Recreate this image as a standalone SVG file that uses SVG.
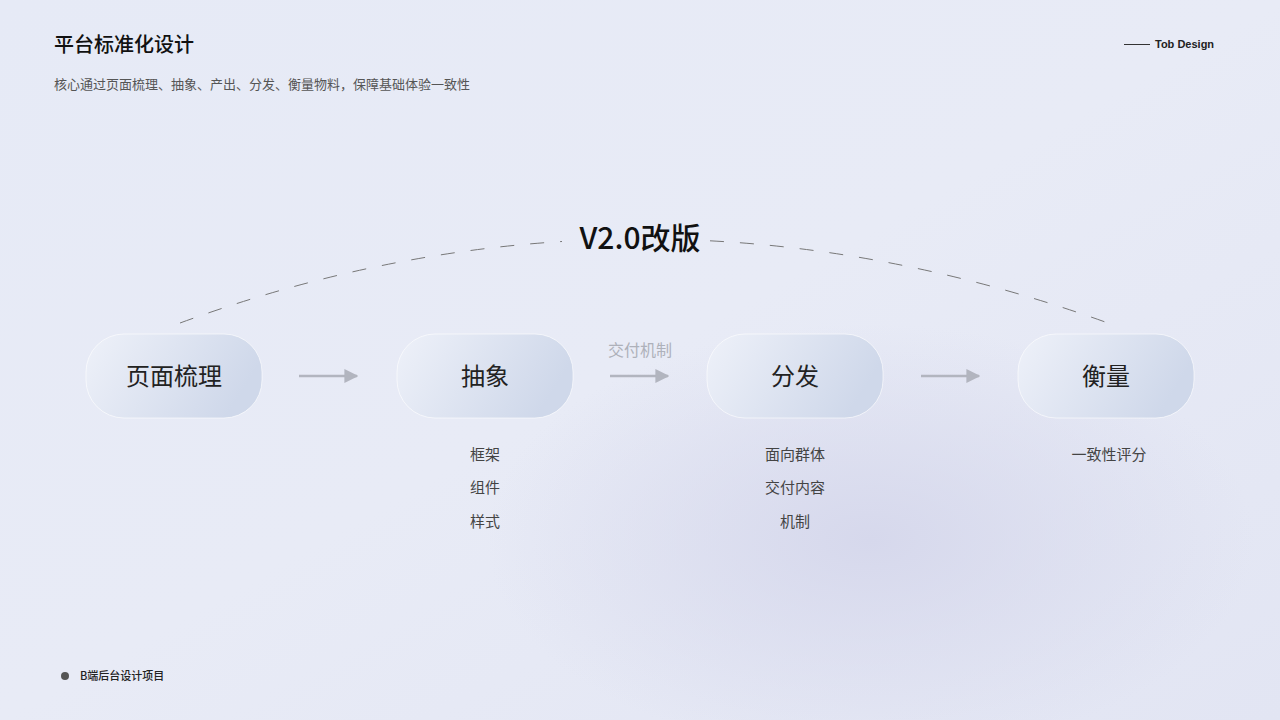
<svg xmlns="http://www.w3.org/2000/svg" width="1280" height="720" viewBox="0 0 1280 720">
<defs>
<linearGradient id="bg" x1="0" y1="0" x2="1" y2="1"><stop offset="0" stop-color="#e6eaf6"/><stop offset="0.5" stop-color="#e8ebf6"/><stop offset="1" stop-color="#e2e5f3"/></linearGradient>
<radialGradient id="blob" cx="0.68" cy="0.75" r="0.3"><stop offset="0" stop-color="#d6d8ec"/><stop offset="1" stop-color="#d6d8ec" stop-opacity="0"/></radialGradient>
<linearGradient id="node" x1="0" y1="0" x2="1" y2="0.3"><stop offset="0" stop-color="#eef1f9"/><stop offset="1" stop-color="#cfd8ea"/></linearGradient>
<marker id="ah" viewBox="0 0 10 10" refX="9" refY="5" markerWidth="14" markerHeight="14" markerUnits="userSpaceOnUse" orient="auto"><path d="M0 0L10 5L0 10z" fill="#b2b5bf"/></marker>
<mask id="m"><rect width="1280" height="720" fill="#fff"/><rect x="562" y="215" width="143" height="50" fill="#000"/></mask>
<style>
.t{font-family:"Noto Sans CJK SC","Liberation Sans",sans-serif}
.nl{font-size:24px;fill:#222;text-anchor:middle}
.sub{font-size:15px;fill:#444;text-anchor:middle}
.nd{fill:url(#node);stroke:#ffffff;stroke-opacity:0.6;stroke-width:1}
</style>
</defs>
<rect width="1280" height="720" fill="url(#bg)"/>
<rect width="1280" height="720" fill="url(#blob)"/>
<text class="t" x="54" y="52" font-size="20" font-weight="500" fill="#111">平台标准化设计</text>
<text class="t" x="54" y="89" font-size="13" fill="#555">核心通过页面梳理、抽象、产出、分发、衡量物料，保障基础体验一致性</text>
<line x1="1124" y1="44.500" x2="1150" y2="44.500" stroke="#333" stroke-width="1"/>
<text x="1155" y="48" font-family="Liberation Sans,sans-serif" font-size="11" font-weight="bold" fill="#222">Tob Design</text>
<circle cx="65" cy="676" r="4" fill="#555"/>
<text class="t" x="80" y="680" font-size="11" font-weight="500" fill="#222">B端后台设计项目</text>
<g id="arc"><path d="M180 323Q640 155 1108 323" fill="none" stroke="#777" stroke-width="1" stroke-dasharray="14 16" mask="url(#m)"/></g>
<text class="t" x="640" y="249" font-size="30" font-weight="500" fill="#111" text-anchor="middle">V2.0改版</text>
<g id="connectors" stroke="#b2b5bf" stroke-width="2.500" marker-end="url(#ah)">
<line x1="299" y1="376" x2="357" y2="376"/>
<line x1="610" y1="376" x2="668" y2="376"/>
<line x1="921" y1="376" x2="979" y2="376"/>
</g>
<text class="t" x="640" y="356" font-size="16" fill="#aeb1ba" text-anchor="middle">交付机制</text>
<g id="n1"><rect class="nd" x="86" y="334" width="176" height="84" rx="38"/><text class="t nl" x="174" y="385">页面梳理</text></g>
<g id="n2"><rect class="nd" x="397" y="334" width="176" height="84" rx="38"/><text class="t nl" x="485" y="385">抽象</text>
<text class="t sub" x="485" y="460">框架</text><text class="t sub" x="485" y="493">组件</text><text class="t sub" x="485" y="527">样式</text></g>
<g id="n3"><rect class="nd" x="707" y="334" width="176" height="84" rx="38"/><text class="t nl" x="795" y="385">分发</text>
<text class="t sub" x="795" y="460">面向群体</text><text class="t sub" x="795" y="493">交付内容</text><text class="t sub" x="795" y="527">机制</text></g>
<g id="n4"><rect class="nd" x="1018" y="334" width="176" height="84" rx="38"/><text class="t nl" x="1106" y="385">衡量</text>
<text class="t sub" x="1109" y="460">一致性评分</text></g>
</svg>
